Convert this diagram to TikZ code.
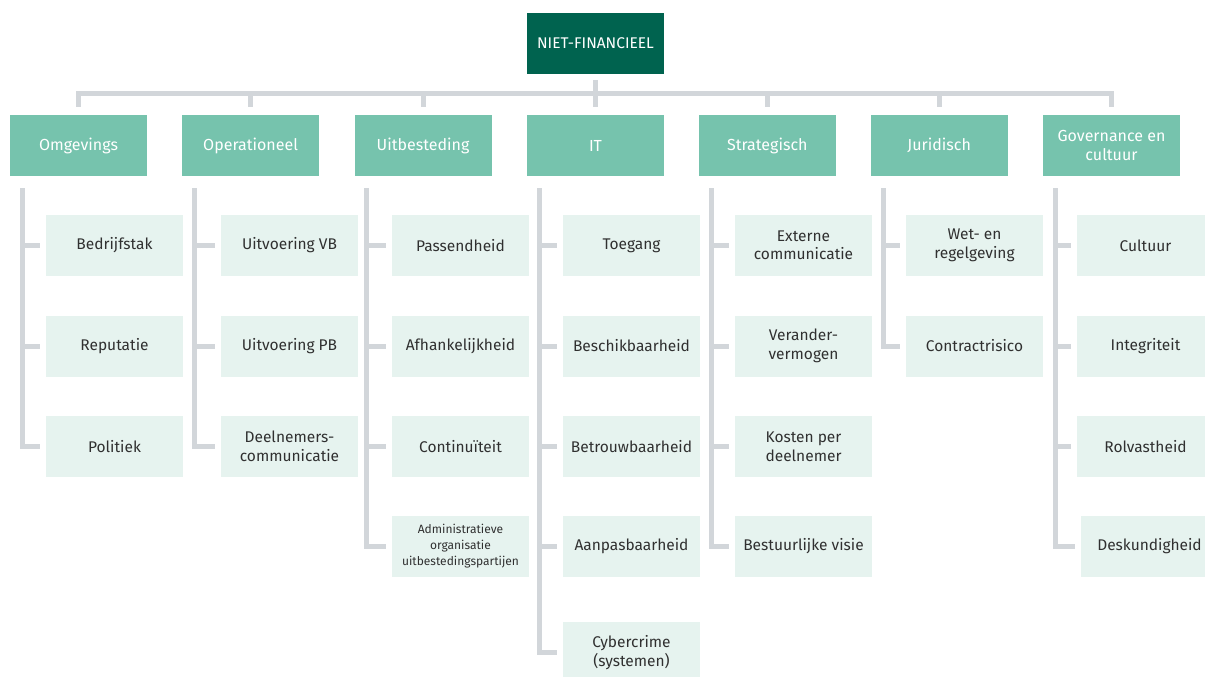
\documentclass[tikz,border=0pt]{standalone}
\usepackage{fontspec}
\setmainfont{Fira Sans}
\usetikzlibrary{calc}
\definecolor{topgreen}{HTML}{00634F}
\definecolor{catgreen}{HTML}{76C3AD}
\definecolor{leafcol}{HTML}{E6F3EF}
\definecolor{conncol}{HTML}{D2D6DA}
\definecolor{txtcol}{HTML}{303030}
\tikzset{
  topbox/.style={fill=topgreen, text=white, minimum width=137pt, minimum height=61pt, inner sep=0pt, font=\fontsize{15.5}{18}\selectfont},
  catbox/.style={fill=catgreen, text=white, minimum width=137pt, minimum height=61pt, align=center, inner sep=0pt, font=\fontsize{16}{18.5}\selectfont},
  leafbox/.style={fill=leafcol, text=txtcol, minimum width=137pt, minimum height=61pt, align=center, inner sep=0pt, font=\fontsize{15.5}{18.5}\selectfont},
  smalltxt/.style={font=\fontsize{12}{16}\selectfont},
  conn/.style={draw=conncol, line width=5pt}
}
\begin{document}
\begin{tikzpicture}[x=1pt,y=-1pt]
\clip (0,0) rectangle (1205,677);
\fill[white] (0,0) rectangle (1205,677);

\node[topbox] (top) at (595.5,43.5) {NIET-FINANCIEEL};

\node[catbox] (c1) at (78.5,145.5) {Omgevings};
\node[catbox] (c2) at (250.6,145.5) {Operationeel};
\node[catbox] (c3) at (423,145.5) {Uitbesteding};
\node[catbox] (c4) at (595.5,145.5) {IT};
\node[catbox] (c5) at (767.3,145.5) {Strategisch};
\node[catbox] (c6) at (939.2,145.5) {Juridisch};
\node[catbox] (c7) at (1111.5,145.5) {Governance en\\cultuur};

% Omgevings
\node[leafbox] (c1r1) at (114.5,245.5) {Bedrijfstak};
\node[leafbox] (c1r2) at (114.5,346) {Reputatie};
\node[leafbox] (c1r3) at (114.5,446.5) {Politiek};
% Operationeel
\node[leafbox] (c2r1) at (289.5,245.5) {Uitvoering VB};
\node[leafbox] (c2r2) at (289.5,346) {Uitvoering PB};
\node[leafbox] (c2r3) at (289.5,446.5) {Deelnemers-\\communicatie};
% Uitbesteding
\node[leafbox] (c3r1) at (460.5,245.5) {Passendheid};
\node[leafbox] (c3r2) at (460.5,346) {Afhankelijkheid};
\node[leafbox] (c3r3) at (460.5,446.5) {Continuïteit};
\node[leafbox, smalltxt] (c3r4) at (460.5,546.5) {Administratieve\\organisatie\\uitbestedingspartijen};
% IT
\node[leafbox] (c4r1) at (631.5,245.5) {Toegang};
\node[leafbox] (c4r2) at (631.5,346) {Beschikbaarheid};
\node[leafbox] (c4r3) at (631.5,446.5) {Betrouwbaarheid};
\node[leafbox] (c4r4) at (631.5,546.5) {Aanpasbaarheid};
\node[leafbox] (c4r5) at (631.5,652.5) {Cybercrime\\(systemen)};
% Strategisch
\node[leafbox] (c5r1) at (803.5,245.5) {Externe\\communicatie};
\node[leafbox] (c5r2) at (803.5,346) {Verander-\\vermogen};
\node[leafbox] (c5r3) at (803.5,446.5) {Kosten per\\deelnemer};
\node[leafbox] (c5r4) at (803.5,546.5) {Bestuurlijke visie};
% Juridisch
\node[leafbox] (c6r1) at (974.5,245.5) {Wet- en\\regelgeving};
\node[leafbox] (c6r2) at (974.5,346) {Contractrisico};
% Governance
\node[leafbox] (c7r1) at (1145.5,245.5) {Cultuur};
\node[leafbox] (c7r2) at (1145.5,346) {Integriteit};
\node[leafbox] (c7r3) at (1145.5,446.5) {Rolvastheid};
\node[leafbox] (c7r4) at (1149.5,546.5) {Deskundigheid};

% top bar
\draw[conn] ($(c1.north)+(0,-8)$) |- ($(c7.north)+(0,-21.5)$) -- ($(c7.north)+(0,-8)$);
\foreach \c in {c2,c3,c5,c6}
  \draw[conn] ($(\c.north)+(0,-8)$) -- ++(0,-13.5);
\draw[conn] ($(top.south)+(0,6)$) -- ($(c4.north)+(0,-8)$);

% spines and branches
\foreach \c/\n in {c1/3,c2/3,c3/4,c4/5,c5/4,c6/2,c7/4} {
  \coordinate (s) at ($(\c.south west)+(12.5,12)$);
  \draw[conn] (s) |- ($(\c r\n.west)+(-5.5,0)$);
  \foreach \k in {1,...,\n}
    \draw[conn] (s |- \c r\k.west) -- ($(\c r\k.west)+(-5.5,0)$);
}
\end{tikzpicture}
\end{document}
